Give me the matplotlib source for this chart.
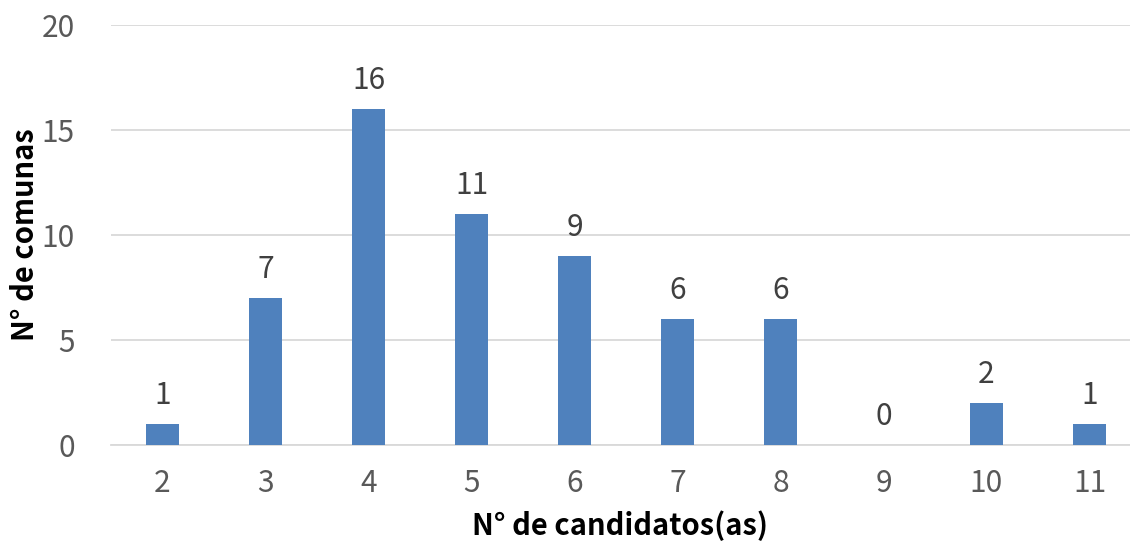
import matplotlib
matplotlib.use("Agg")
import matplotlib.pyplot as plt

categories = ["2", "3", "4", "5", "6", "7", "8", "9", "10", "11"]
values = [1, 7, 16, 11, 9, 6, 6, 0, 2, 1]
yticks = [0, 5, 10, 15, 20]

plt.rcParams['font.family'] = ['Noto Sans CJK SC', 'DejaVu Sans']

W, H = 1130, 544
fig = plt.figure(figsize=(W / 100, H / 100), dpi=100)
left = 111 / W
bottom = 1 - 444.7 / H
top = 1 - 24.7 / H
ax = fig.add_axes([left, bottom, 1 - left, top - bottom])

x = list(range(len(categories)))
bars = ax.bar(x, values, width=0.33, color="#4F81BD", zorder=3)
ax.set_xlim(-0.5, (W - 111) / 103.0 - 0.5)
ax.set_ylim(0, 20)
ax.set_yticks(yticks)
ax.set_xticks(x)
ax.set_xticklabels(categories)

for s in ["top", "right", "left"]:
    ax.spines[s].set_visible(False)
ax.spines["bottom"].set_color("#D9D9D9")
ax.spines["bottom"].set_linewidth(1.3)
ax.yaxis.grid(True, color="#D9D9D9", linewidth=1.3, zorder=0)
ax.tick_params(axis="both", length=0, labelsize=21.5, colors="#595959")
ax.tick_params(axis="y", pad=26)
ax.tick_params(axis="x", pad=17)

for xi, v in zip(x, values):
    ax.annotate(str(v), (xi, v), xytext=(0, 9), textcoords="offset points",
                ha="center", va="bottom", fontsize=21.5, color="#404040")

ax.set_xlabel("N° de candidatos(as)", fontsize=21, fontweight="bold", color="black", labelpad=8)
ax.set_ylabel("N° de comunas", fontsize=21, fontweight="bold", color="black",
              va="center", ha="center")
ax.yaxis.set_label_coords(25 / W, 1 - 235 / H, transform=fig.transFigure)

fig.savefig("out.png", dpi=100)
